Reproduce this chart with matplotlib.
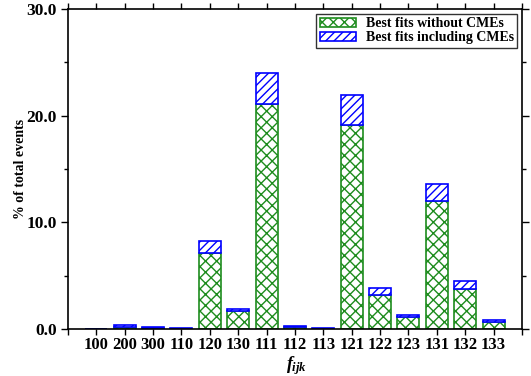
import numpy as np
import matplotlib.pyplot as plt
from matplotlib.ticker import FormatStrFormatter, MultipleLocator

plt.rcParams['font.family'] = ['Liberation Serif', 'DejaVu Serif']
plt.rcParams['font.weight'] = 'bold'
plt.rcParams['hatch.linewidth'] = 1.0
plt.rcParams['mathtext.fontset'] = 'custom'
plt.rcParams['mathtext.it'] = 'Liberation Serif:italic:bold'
plt.rcParams['mathtext.rm'] = 'Liberation Serif:bold'

# Porcentaje de eventos por combinación f_ijk
categorias = ['100', '200', '300', '110', '120', '130', '111', '112', '113',
              '121', '122', '123', '131', '132', '133']
sin_cme = [0.0, 0.2, 0.05, 0.02, 7.1, 1.66, 21.1, 0.15, 0.03,
           19.1, 3.2, 1.1, 12.0, 3.75, 0.63]
con_cme = [0.0, 0.35, 0.18, 0.06, 8.25, 1.87, 24.0, 0.24, 0.1,
           21.9, 3.8, 1.28, 13.6, 4.47, 0.82]

x = np.arange(len(categorias))
extra = np.array(con_cme) - np.array(sin_cme)

fig = plt.figure(figsize=(5.31, 3.76), dpi=100)
ax = fig.add_axes([0.128, 0.125, 0.855, 0.851])

verde = '#1e8c1e'
azul = '#0000ff'
ax.bar(x, sin_cme, width=0.775, color='white', edgecolor=verde,
       hatch='xxx', linewidth=1.2, label='Best fits without CMEs')
ax.bar(x, extra, width=0.775, bottom=sin_cme, color='white', edgecolor=azul,
       hatch='////', linewidth=1.2, label='Best fits including CMEs')

# ticks también en los extremos del eje, sin etiqueta
n = len(categorias)
ax.set_xlim(-1, n)
ax.set_ylim(0, 30)
ax.set_xticks(np.arange(-1, n + 1))
ax.set_xticklabels([''] + categorias + [''], fontsize=12, fontweight='bold')
ax.yaxis.set_major_locator(MultipleLocator(10))
ax.yaxis.set_minor_locator(MultipleLocator(5))
ax.yaxis.set_major_formatter(FormatStrFormatter('%.1f'))
for lbl in ax.get_yticklabels():
    lbl.set_fontsize(12.5)
    lbl.set_fontweight('bold')

ax.tick_params(axis='x', direction='out', length=4, top=True, width=1, pad=2)
ax.tick_params(axis='y', which='major', direction='out', length=5, right=True, width=1, pad=3)
ax.tick_params(axis='y', which='minor', direction='out', length=3, right=True, width=1)
for s in ax.spines.values():
    s.set_linewidth(1.2)

ax.set_ylabel('% of total events', fontsize=10, fontweight='bold')
ax.yaxis.set_label_coords(-0.09, 0.5)
ax.set_xlabel(r'$f_{ijk}$', fontsize=13)
ax.xaxis.set_label_coords(0.504, -0.08)

leg = ax.legend(loc='upper right', fontsize=10, frameon=True, fancybox=False,
                edgecolor='black', borderpad=0.25, handlelength=2.6,
                handleheight=0.6, handletextpad=0.7, labelspacing=0.05,
                borderaxespad=0.35)
leg.get_frame().set_linewidth(1.0)
for t in leg.get_texts():
    t.set_fontweight('bold')

plt.savefig('out.png', dpi=100)
